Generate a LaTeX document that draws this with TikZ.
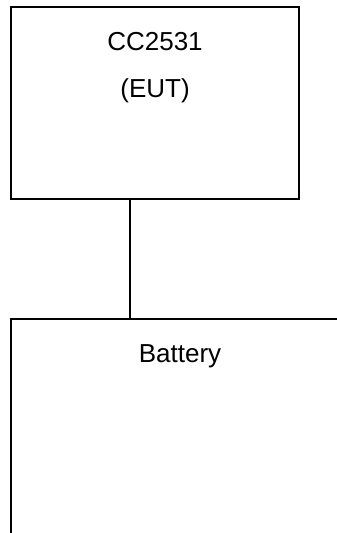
\documentclass[tikz,border=0pt]{standalone}
\usepackage{fontspec}
\setmainfont{Liberation Sans}
\usetikzlibrary{positioning, calc}

\begin{document}
\begin{tikzpicture}[x=1pt, y=-1pt, line width=1.6pt,
    box/.style={draw, rectangle, inner sep=0pt},
    lbl/.style={anchor=base, font=\fontsize{26}{30}\selectfont}]

    % Picture frame
    \useasboundingbox (0,0) rectangle (337,533);
    \clip (0,0) rectangle (337,533);

    % Device under test
    \node[box, minimum width=288pt, minimum height=192pt] (eut) at (155,103) {};
    \node[lbl] (chip) at (155,50) {CC2531};
    \node[lbl] (euttag) at (155,97) {(EUT)};

    % Battery box (runs off the page)
    \node[box, minimum width=338pt, minimum height=400pt] (battery) at (180,519) {};
    \node[lbl] (batterytag) at (180,362) {Battery};

    % Supply wire
    \coordinate (tap) at ($(eut.south west)+(120pt,0)$);
    \draw (tap) -- (tap |- battery.north);

\end{tikzpicture}
\end{document}
